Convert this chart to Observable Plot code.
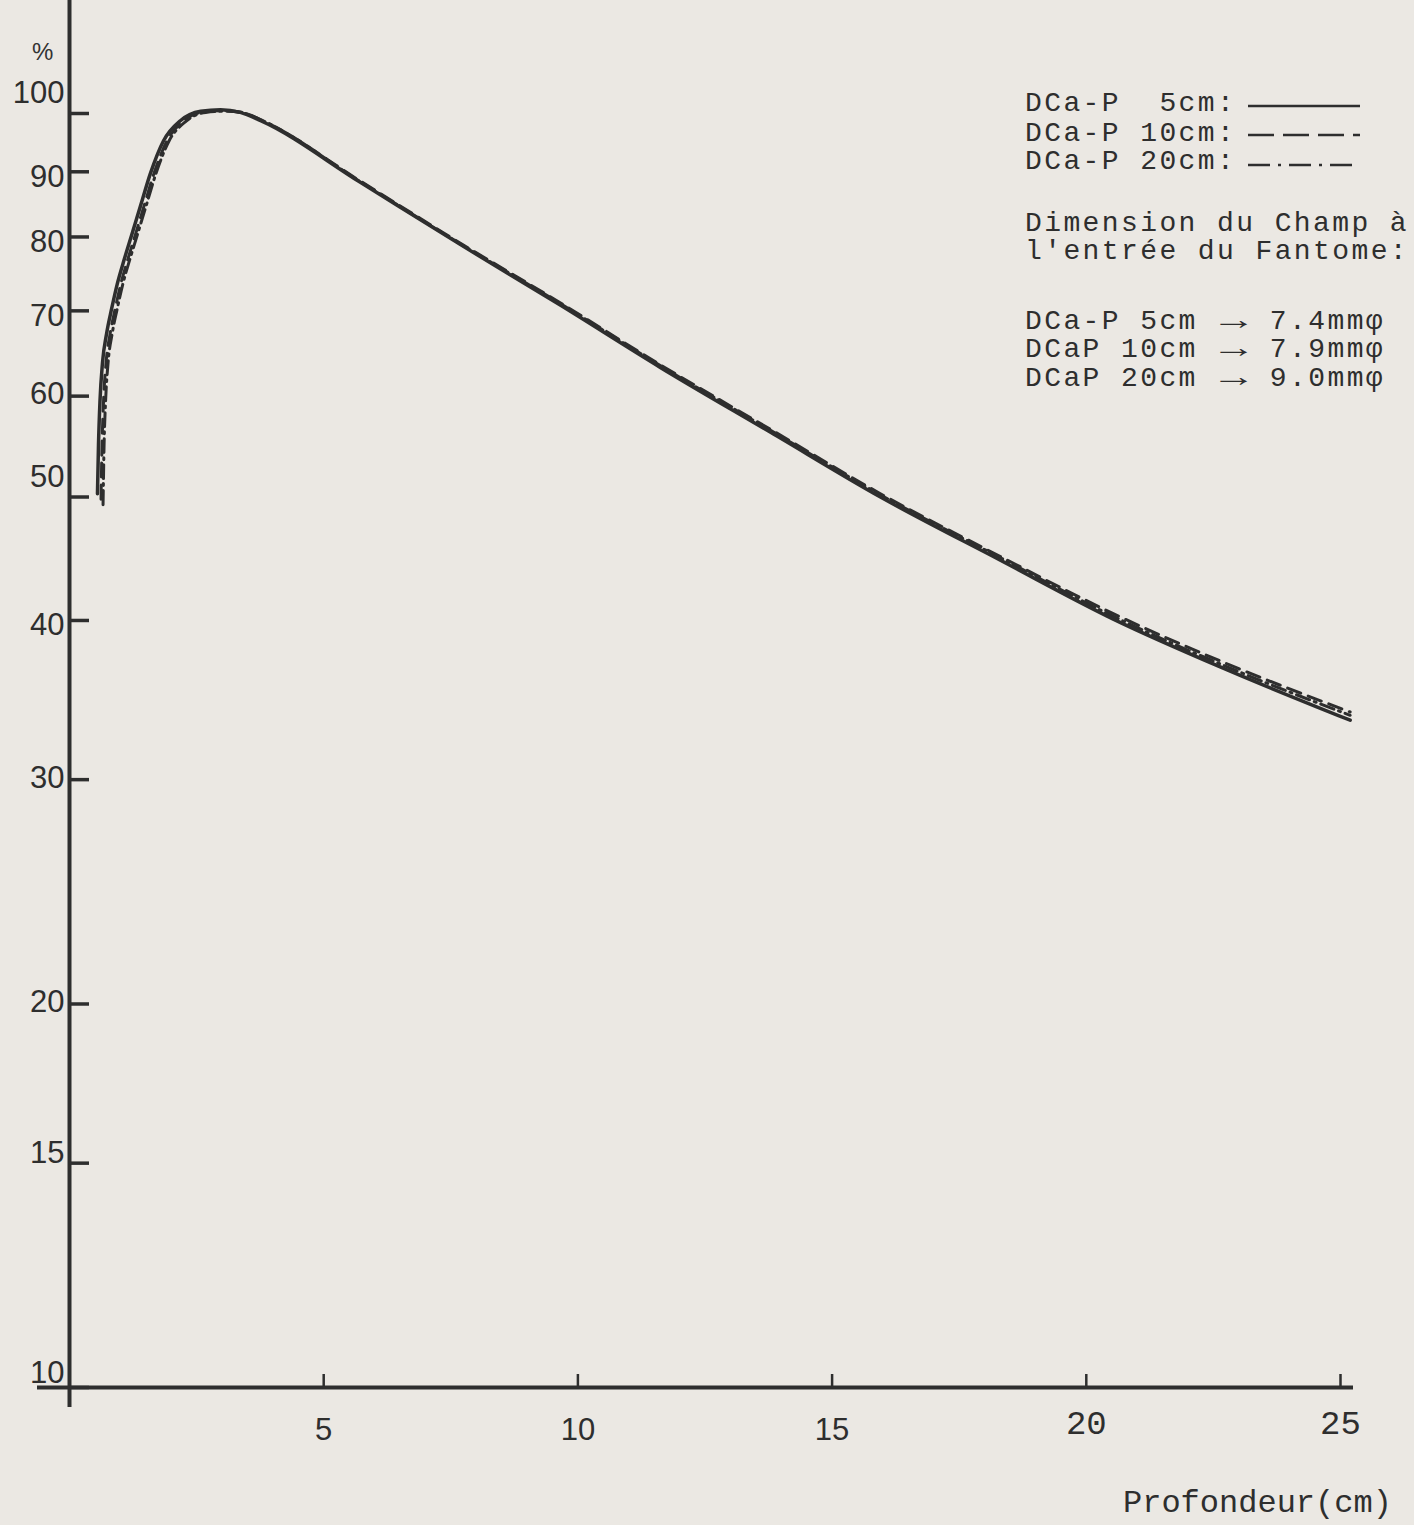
<!DOCTYPE html>
<html>
<head>
<meta charset="utf-8">
<script src="https://cdn.jsdelivr.net/npm/d3@7"></script>
<script src="https://cdn.jsdelivr.net/npm/@observablehq/plot@0.6"></script>
<style>
  html, body { margin: 0; padding: 0; background: #ebe8e3; }
  #wrap { position: relative; width: 1414px; height: 1525px; background: #ebe8e3; overflow: hidden; }
  #wrap svg.plot { position: absolute; left: 0; top: 0; }
  .mono { position: absolute; font-family: "Courier New", "Liberation Mono", monospace; font-size: 28px; letter-spacing: 2.4px; line-height: 28px; color: #2e2e2e; white-space: pre; }
  .xlab { position: absolute; font-family: "Courier New", "Liberation Mono", monospace; font-size: 32px; line-height: 32px; color: #2e2e2e; white-space: pre; }
  .arrow { display: inline-block; width: 2ch; text-align: center; transform: scaleX(1.6); letter-spacing: 0; }
  .pct { position: absolute; font-family: "Liberation Sans", Arial, sans-serif; font-size: 24px; line-height: 24px; color: #333; }
  .sample { position: absolute; }
</style>
</head>
<body>
<div id="wrap"></div>
<script>
// ---- data (depth in cm, relative dose in %) ----
const depth5cm = [0.55, 0.57, 0.60, 0.65, 0.73, 0.83, 0.94, 1.08, 1.22, 1.40, 1.59, 1.85, 2.18, 2.58, 2.97, 3.36, 3.76, 5.72, 7.69, 9.66, 11.62, 13.79, 15.95, 18.31, 20.53, 22.83, 25.19];
const dose5cm  = [50.3, 54.9, 59.5, 63.8, 67.2, 70.3, 73.5, 76.9, 80.2, 84.7, 89.7, 95.2, 98.7, 100.4, 100.7, 100.2, 98.7, 88.3, 78.9, 70.7, 63.2, 56.2, 50.0, 44.6, 40.1, 36.5, 33.4];

const depth10cm = [0.62, 0.64, 0.67, 0.72, 0.80, 0.90, 1.01, 1.15, 1.29, 1.47, 1.66, 1.92, 2.25, 2.64, 3.02, 3.40, 3.78, 5.72, 7.69, 9.66, 11.62, 13.79, 15.95, 18.31, 20.53, 22.83, 25.19];
const dose10cm  = [49.8, 54.9, 59.5, 63.8, 67.2, 70.3, 73.5, 76.9, 80.2, 84.7, 89.7, 95.2, 98.7, 100.3, 100.5, 100.2, 98.8, 88.5, 79.1, 71.0, 63.5, 56.5, 50.3, 44.9, 40.5, 36.9, 33.9];

const depth20cm = [0.66, 0.68, 0.71, 0.76, 0.84, 0.94, 1.05, 1.19, 1.33, 1.51, 1.70, 1.96, 2.29, 2.68, 3.05, 3.42, 3.80, 5.72, 7.69, 9.66, 11.62, 13.79, 15.95, 18.31, 20.53, 22.83, 25.19];
const dose20cm  = [49.3, 54.9, 59.5, 63.8, 67.2, 70.3, 73.5, 76.9, 80.2, 84.7, 89.7, 95.2, 98.6, 100.2, 100.4, 100.1, 98.7, 88.4, 79.0, 70.9, 63.4, 56.4, 50.2, 44.8, 40.3, 36.7, 33.7];

const yTicks = [10, 15, 20, 30, 40, 50, 60, 70, 80, 90, 100];
// tick labels grouped by how the hand lettering sits against its tick
const yLabelsHigh = [100, 50];
const yLabelsLow = [90, 80, 70, 40];
const yLabelsMid = [60, 30, 20];
const yLabelsAbove = [15];
const yLabelsBase = [10];
const xTicksSans = [5, 10, 15];
const xTicksMono = [20, 25];
const xTicks = [...xTicksSans, ...xTicksMono];

const legendSeries = ["DCa-P  5cm:", "DCa-P 10cm:", "DCa-P 20cm:"];
const legendTitle = ["Dimension du Champ à", "l'entrée du Fantome:"];
const fieldNames = ["DCa-P 5cm", "DCaP 10cm", "DCaP 20cm"];
const fieldSizes = ["7.4mmφ", "7.9mmφ", "9.0mmφ"];
const yUnit = "%";
const xLabel = "Profondeur(cm)";

// ---- build tables ----
const toRows = (ds, vs) => ds.map((d, i) => ({d, v: vs[i]}));
const s5 = toRows(depth5cm, dose5cm);
const s10 = toRows(depth10cm, dose10cm);
const s20 = toRows(depth20cm, dose20cm);

const ink = "#2e2e2e";
const W = 1414, H = 1525;
const mL = 69, mR = 74, mT = 113, mB = 138;
const innerW = W - mL - mR, innerH = H - mT - mB;
const sans = "'Liberation Sans', Arial, Helvetica, sans-serif";
const mono = "'Courier New', 'Liberation Mono', monospace";

const yLab = (ticks, dy) => Plot.axisY({ticks, tickSize: 0, tickPadding: 5, tickFormat: d => `${d}`, fontSize: 31, fontFamily: sans, label: null, dy});

const chart = Plot.plot({
  width: W, height: H,
  marginLeft: mL, marginRight: mR, marginTop: mT, marginBottom: mB,
  style: {background: "transparent", color: ink, overflow: "visible"},
  x: {domain: [0, 25]},
  y: {type: "log", domain: [10, 100]},
  marks: [
    // axes lines
    Plot.ruleX([0], {stroke: ink, strokeWidth: 4, insetTop: -mT - 5, insetBottom: -20}),
    Plot.ruleY([10], {stroke: ink, strokeWidth: 4, insetLeft: -32, insetRight: -13}),
    // y ticks pointing inward
    Plot.tickY(yTicks, {y: d => d, stroke: ink, strokeWidth: 3.5, insetRight: innerW - 20}),
    // x ticks pointing up
    Plot.tickX(xTicks, {x: d => d, stroke: ink, strokeWidth: 2.5, insetTop: innerH - 13}),
    // tick labels
    yLab(yLabelsHigh, -20),
    yLab(yLabelsLow, 5),
    yLab(yLabelsMid, -2),
    yLab(yLabelsAbove, -10),
    yLab(yLabelsBase, -14),
    Plot.axisX({ticks: xTicksSans, tickSize: 0, tickPadding: 30, tickFormat: d => `${d}`, fontSize: 31, fontFamily: sans, label: null}),
    Plot.axisX({ticks: xTicksMono, tickSize: 0, tickPadding: 22, tickFormat: d => `${d}`, fontSize: 34, fontFamily: mono, label: null}),
    // curves
    Plot.line(s20, {x: "d", y: "v", stroke: ink, strokeWidth: 3, strokeDasharray: "14,5,2,5", curve: "monotone-x"}),
    Plot.line(s10, {x: "d", y: "v", stroke: ink, strokeWidth: 3, strokeDasharray: "14,8", curve: "monotone-x"}),
    Plot.line(s5, {x: "d", y: "v", stroke: ink, strokeWidth: 3.5, curve: "monotone-x"})
  ]
});
chart.classList.add("plot");
const wrap = document.getElementById("wrap");
wrap.appendChild(chart);

// ---- overlay texts ----
function addDiv(cls, text, left, top) {
  const el = document.createElement("div");
  el.className = cls;
  el.style.left = left + "px";
  el.style.top = top + "px";
  el.textContent = text;
  wrap.appendChild(el);
  return el;
}
addDiv("pct", yUnit, 32, 40);
addDiv("xlab", xLabel, 1123, 1488);

const seriesTops = [90, 120, 148];
legendSeries.forEach((t, i) => addDiv("mono", t, 1025, seriesTops[i]));
const dashes = [null, "26,9", "22,8,3,8"];
const sampleY = [106, 135, 165];
dashes.forEach((da, i) => {
  const ns = "http://www.w3.org/2000/svg";
  const svg = document.createElementNS(ns, "svg");
  svg.setAttribute("class", "sample");
  svg.setAttribute("width", 116);
  svg.setAttribute("height", 10);
  svg.style.left = "1248px";
  svg.style.top = (sampleY[i] - 5) + "px";
  const ln = document.createElementNS(ns, "line");
  ln.setAttribute("x1", 0); ln.setAttribute("x2", 112);
  ln.setAttribute("y1", 5); ln.setAttribute("y2", 5);
  ln.setAttribute("stroke", ink);
  ln.setAttribute("stroke-width", 2.5);
  if (da) ln.setAttribute("stroke-dasharray", da);
  svg.appendChild(ln);
  wrap.appendChild(svg);
});
legendTitle.forEach((t, i) => addDiv("mono", t, 1025, [210, 238][i]));
const fieldTops = [308, 336, 365];
fieldNames.forEach((n, i) => {
  const el = addDiv("mono", "", 1025, fieldTops[i]);
  el.append(n + " ");
  const a = document.createElement("span");
  a.className = "arrow";
  a.textContent = "→";
  el.append(a);
  el.append(" " + fieldSizes[i]);
});
</script>
</body>
</html>
